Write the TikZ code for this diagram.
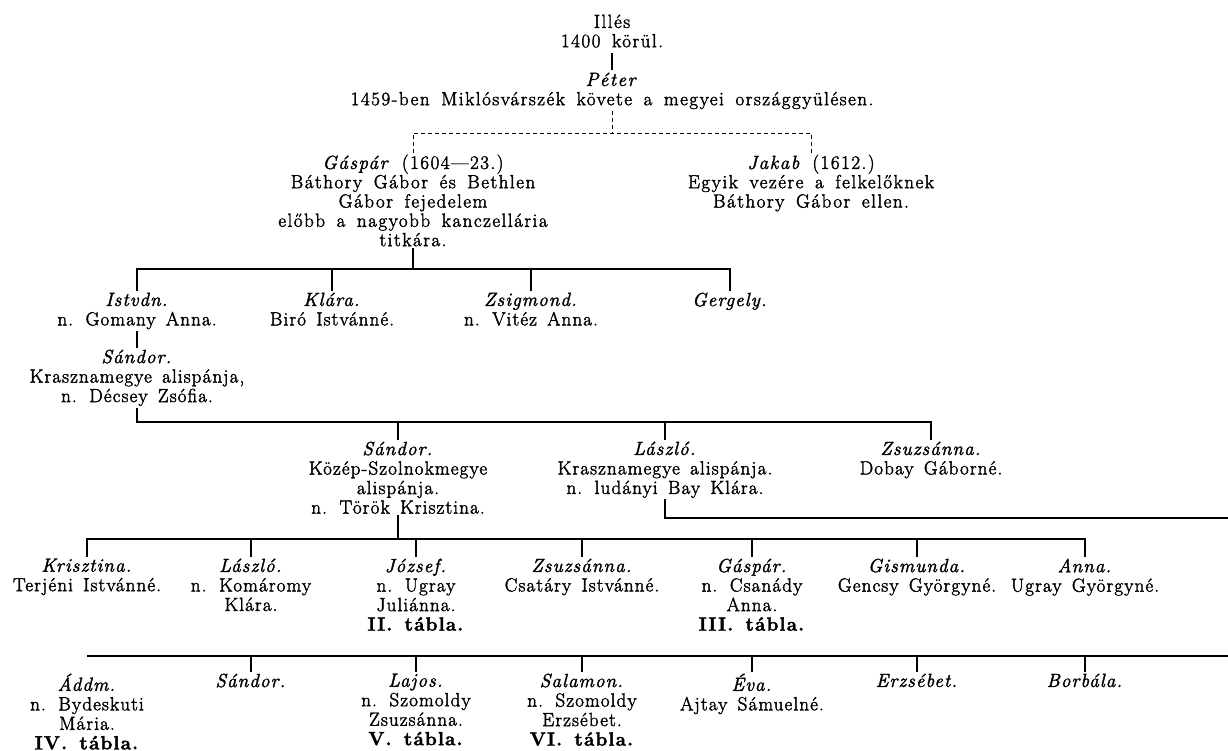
\documentclass[tikz,border=0pt]{standalone}
\usepackage{fontspec}
\setmainfont{Latin Modern Roman}[LetterSpace=6,WordSpace=1.5,FakeBold=2]
\newfontfamily\oldface{Latin Modern Roman}[LetterSpace=8,WordSpace=1.6,FakeBold=2]
\usepackage{tikz}
\tikzset{
    every node/.style={align=center,font=\fontsize{19}{19.5}\selectfont,},
    person/.style={anchor=north,inner xsep=0pt,inner ysep=1.5pt,},
    elder/.style={person,font=\oldface\fontsize{19}{19.3}\selectfont,},
    kin/.style={line width=1.1pt,},
    unsure/.style={line width=0.8pt,dash pattern=on 4pt off 3pt,},
}

\begin{document}
\begin{tikzpicture}[x=1pt,y=-1pt]
                \useasboundingbox (0,0) rectangle (1228,751);

                \node[elder] (illes) at (612, 13) {Illés\\1400 körül.};
                \node[elder] (peter) at (612, 71) {\textit{Péter}\\1459-ben Miklósvárszék követe a megyei országgyülésen.};

                \node[elder] (gaspar) at (413, 153) {\textit{Gáspár} (1604—23.)\\Báthory Gábor és Bethlen\\Gábor fejedelem\\előbb a nagyobb kanczellária\\titkára.};
                \node[elder] (jakab) at (811, 153) {\textit{Jakab} (1612.)\\Egyik vezére a felkelőknek\\Báthory Gábor ellen.};

                \node[person] (istvan) at (137, 291) {\textit{Istvdn.}\\n. Gomany Anna.};
                \node[person] (klara) at (332, 291) {\textit{Klára.}\\Biró Istvánné.};
                \node[person] (zsigmond) at (531, 291) {\textit{Zsigmond.}\\n. Vitéz Anna.};
                \node[person] (gergely) at (730, 291) {\textit{Gergely.}};

                \node[person] (sandor_a) at (137, 348) {\textit{Sándor.}\\Krasznamegye alispánja,\\n. Décsey Zsófia.};

                \node[person] (sandor_b) at (398, 440) {\textit{Sándor.}\\Közép-Szolnokmegye\\alispánja.\\n. Török Krisztina.};
                \node[person] (laszlo_a) at (665, 440) {\textit{László.}\\Krasznamegye alispánja.\\n. ludányi Bay Klára.};
                \node[person] (zsuzsanna_a) at (931, 440) {\textit{Zsuzsánna.}\\Dobay Gáborné.};

                \node[person] (krisztina) at (87, 557) {\textit{Krisztina.}\\Terjéni Istvánné.};
                \node[person] (laszlo_b) at (251, 557) {\textit{László.}\\n. Komáromy\\Klára.};
                \node[person] (jozsef) at (416, 557) {\textit{József.}\\n. Ugray\\Juliánna.\\\textbf{II. tábla.}};
                \node[person] (zsuzsanna_b) at (582, 557) {\textit{Zsuzsánna.}\\Csatáry Istvánné.};
                \node[person] (gaspar_b) at (752, 557) {\textit{Gáspár.}\\n. Csanády\\Anna.\\\textbf{III. tábla.}};
                \node[person] (gismunda) at (917, 557) {\textit{Gismunda.}\\Gencsy Györgyné.};
                \node[person] (anna) at (1085, 557) {\textit{Anna.}\\Ugray Györgyné.};

                \node[person] (adam) at (87, 672) {\textit{Áddm.}\\n. Bydeskuti\\Mária.\\\textbf{IV. tábla.}};
                \node[person] (sandor_c) at (251, 672) {\textit{Sándor.}};
                \node[person] (lajos) at (416, 672) {\textit{Lajos.}\\n. Szomoldy\\Zsuzsánna.\\\textbf{V. tábla.}};
                \node[person] (salamon) at (582, 672) {\textit{Salamon.}\\n. Szomoldy\\Erzsébet.\\\textbf{VI. tábla.}};
                \node[person] (eva) at (752, 672) {\textit{Éva.}\\Ajtay Sámuelné.};
                \node[person] (erzsebet) at (917, 672) {\textit{Erzsébet.}};
                \node[person] (borbala) at (1085, 672) {\textit{Borbála.}};

                \coordinate (dash_bar) at (0, 133);
                \coordinate (bar_gen3) at (0, 269);
                \coordinate (bar_gen4) at (0, 422);
                \coordinate (bar_gen5) at (0, 539);
                \coordinate (bar_gen6) at (0, 656);
                \coordinate (edge_laszlo) at (1228, 518);
                \coordinate (edge_gen6) at (1228, 656);

                \draw[kin,shorten <=4pt,shorten >=1pt] (illes) to (peter);

                \draw[unsure] (peter.south) to (peter.south |- dash_bar);
                \draw[unsure] (gaspar.north) |- (jakab.north |- dash_bar) to (jakab.north);

                \draw[kin] (gaspar.south) to (gaspar.south |- bar_gen3);
                \draw[kin] (istvan.north) |- (gergely.north |- bar_gen3) to (gergely.north);
                \draw[kin] (klara.north) to (klara.north |- bar_gen3);
                \draw[kin] (zsigmond.north) to (zsigmond.north |- bar_gen3);

                \draw[kin] (istvan) to (sandor_a);

                \draw[kin] (sandor_a.south) |- (zsuzsanna_a.north |- bar_gen4) to (zsuzsanna_a.north);
                \draw[kin] (sandor_b.north) to (sandor_b.north |- bar_gen4);
                \draw[kin] (laszlo_a.north) to (laszlo_a.north |- bar_gen4);

                \draw[kin] (laszlo_a.south) |- (edge_laszlo);

                \draw[kin] (sandor_b.south) to (sandor_b.south |- bar_gen5);
                \draw[kin] (krisztina.north) |- (anna.north |- bar_gen5) to (anna.north);
                \draw[kin] (laszlo_b.north) to (laszlo_b.north |- bar_gen5);
                \draw[kin] (jozsef.north) to (jozsef.north |- bar_gen5);
                \draw[kin] (zsuzsanna_b.north) to (zsuzsanna_b.north |- bar_gen5);
                \draw[kin] (gaspar_b.north) to (gaspar_b.north |- bar_gen5);
                \draw[kin] (gismunda.north) to (gismunda.north |- bar_gen5);

                \draw[kin] (edge_gen6) to (adam.north |- bar_gen6);
                \draw[kin] (sandor_c.north) to (sandor_c.north |- bar_gen6);
                \draw[kin] (lajos.north) to (lajos.north |- bar_gen6);
                \draw[kin] (salamon.north) to (salamon.north |- bar_gen6);
                \draw[kin] (eva.north) to (eva.north |- bar_gen6);
                \draw[kin] (erzsebet.north) to (erzsebet.north |- bar_gen6);
                \draw[kin] (borbala.north) to (borbala.north |- bar_gen6);
            \end{tikzpicture}
\end{document}
